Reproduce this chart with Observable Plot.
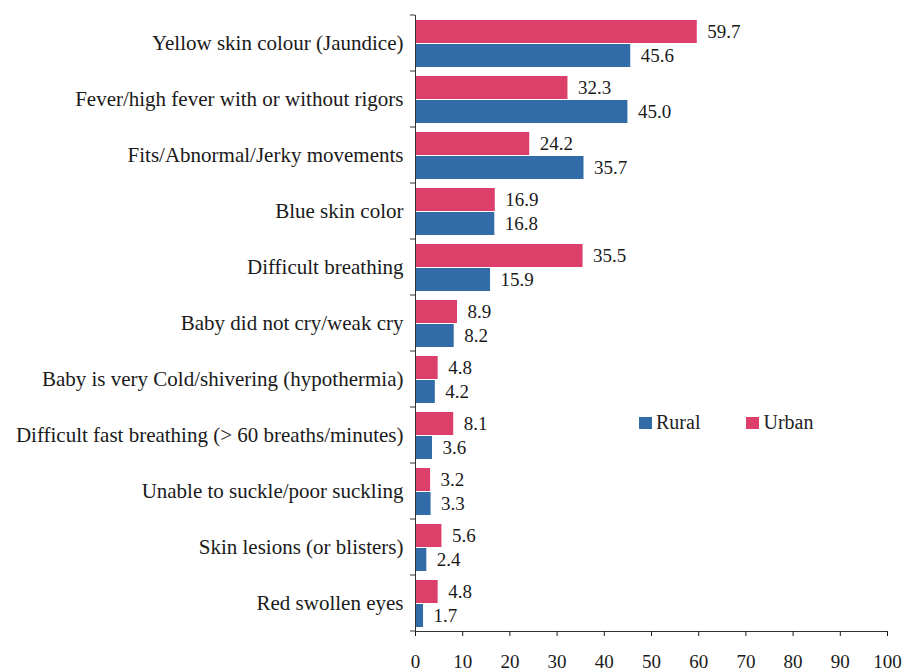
<!DOCTYPE html>
<html>
<head>
<meta charset="utf-8">
<script src="https://cdn.jsdelivr.net/npm/d3@7"></script>
<script src="https://cdn.jsdelivr.net/npm/@observablehq/plot@0.6"></script>
<style>
  html, body { margin: 0; padding: 0; background: #fff; }
  #wrap { position: relative; width: 912px; height: 671px; }
  #legend { position: absolute; left: 639px; top: 411px; font-family: "Liberation Serif", serif; font-size: 20px; line-height: 23px; color: #222; display: flex; }
  #legend .item { display: flex; align-items: center; }
  #legend .sw { width: 13px; height: 12px; margin-right: 4px; }
  svg text { font-family: "Liberation Serif", serif !important; }
</style>
</head>
<body>
<div id="wrap"><div id="legend"></div></div>
<script>
const categories = [
  "Yellow skin colour (Jaundice)",
  "Fever/high fever with or without rigors",
  "Fits/Abnormal/Jerky movements",
  "Blue skin color",
  "Difficult breathing",
  "Baby did not cry/weak cry",
  "Baby is very Cold/shivering (hypothermia)",
  "Difficult fast breathing (> 60 breaths/minutes)",
  "Unable to suckle/poor suckling",
  "Skin lesions (or blisters)",
  "Red swollen eyes"
];
const urban = [59.7, 32.3, 24.2, 16.9, 35.5, 8.9, 4.8, 8.1, 3.2, 5.6, 4.8];
const rural = [45.6, 45.0, 35.7, 16.8, 15.9, 8.2, 4.2, 3.6, 3.3, 2.4, 1.7];
const seriesNames = ["Rural", "Urban"];
const seriesColors = ["#316CA8", "#DC3F69"];
const xTicks = [0, 10, 20, 30, 40, 50, 60, 70, 80, 90, 100];

const urbanRows = categories.map((c, i) => ({cat: c, series: "Urban", value: urban[i]}));
const ruralRows = categories.map((c, i) => ({cat: c, series: "Rural", value: rural[i]}));

const font = "Liberation Serif";
const chart = Plot.plot({
  width: 912,
  height: 671,
  marginLeft: 415,
  marginRight: 25,
  marginTop: 15,
  marginBottom: 40,
  style: {fontFamily: font, fontSize: "21px", color: "#1a1a1a", background: "#fff"},
  x: {domain: [0, 100], ticks: xTicks, tickSize: 5, tickPadding: 18, label: null},
  y: {domain: categories, padding: 0, tickSize: 0, tickPadding: 12, label: null},
  color: {domain: seriesNames, range: seriesColors},
  marks: [
    Plot.barX(urbanRows, {x: "value", y: "cat", fill: "series", insetTop: 5, insetBottom: 28}),
    Plot.barX(ruralRows, {x: "value", y: "cat", fill: "series", insetTop: 29, insetBottom: 4}),
    Plot.text(urbanRows, {x: "value", y: "cat", text: d => d.value.toFixed(1), textAnchor: "start", dx: 10, dy: -12, fontSize: 19, fill: "#1a1a1a"}),
    Plot.text(ruralRows, {x: "value", y: "cat", text: d => d.value.toFixed(1), textAnchor: "start", dx: 10, dy: 12, fontSize: 19, fill: "#1a1a1a"}),
    Plot.ruleX([0], {stroke: "#333"}),
    Plot.frame({anchor: "bottom", stroke: "#333"}),
    Plot.axisX({ticks: xTicks, tickSize: 5, tickPadding: 18, fontSize: 19, label: null}),
    Plot.axisY({tickSize: 0, tickPadding: 12, fontSize: 21, label: null})
  ]
});

// boundary ticks on the category axis, from the library's scales
const ys = chart.scale("y");
const xs = chart.scale("x");
const x0 = xs.apply(0);
const bounds = categories.map(c => ys.apply(c));
bounds.push(ys.apply(categories[categories.length - 1]) + ys.bandwidth);
const g = d3.select(chart).append("g").attr("stroke", "#333");
bounds.forEach(b => g.append("line").attr("x1", x0 - 5).attr("x2", x0).attr("y1", b).attr("y2", b));

document.getElementById("wrap").prepend(chart);

const legend = document.getElementById("legend");
seriesNames.forEach((s, i) => {
  const it = document.createElement("div");
  it.className = "item";
  it.style.marginRight = i === 0 ? "46px" : "0";
  const sw = document.createElement("span");
  sw.className = "sw";
  sw.style.background = seriesColors[i];
  const t = document.createElement("span");
  t.textContent = s;
  it.append(sw, t);
  legend.append(it);
});
</script>
</body>
</html>
